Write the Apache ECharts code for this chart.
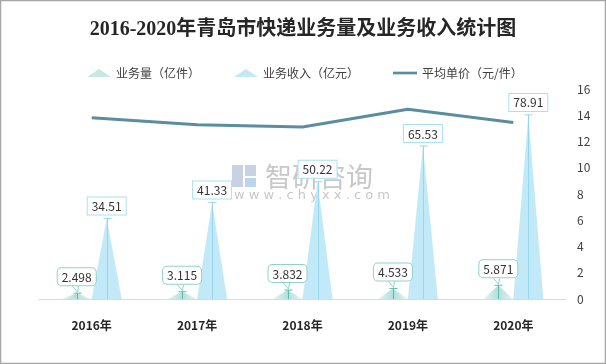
<!DOCTYPE html>
<html><head><meta charset="utf-8">
<script src="https://cdn.jsdelivr.net/npm/echarts@6/dist/echarts.min.js"></script>
<style>html,body{margin:0;padding:0;background:#fff}#c{width:606px;height:364px}</style>
</head><body><div id="c"></div>
<script>
const categories = ['2016年','2017年','2018年','2019年','2020年'];
const volume = [2.498, 3.115, 3.832, 4.533, 5.871];
const revenue = [34.51, 41.33, 50.22, 65.53, 78.91];
const unitPrice = [13.81, 13.27, 13.11, 14.46, 13.44];
const rightTicks = [0, 16, 2];

const chart = echarts.init(document.getElementById('c'));
const font = '"Noto Sans CJK SC","Noto Sans",sans-serif';

function stemSeries(data, offset, color, pointer) {
  return {
    type: 'custom', yAxisIndex: 0, z: 5, silent: true,
    data: data.map((v, i) => [i, v]),
    renderItem: function (params, api) {
      const top = api.coord([api.value(0), api.value(1)]);
      const bot = api.coord([api.value(0), 0]);
      const x = Math.round(top[0] + offset) + 0.5;
      const kids = [
        {type: 'line', shape: {x1: x, y1: top[1], x2: x, y2: bot[1]}, style: {stroke: color, lineWidth: 1}},
        {type: 'line', shape: {x1: x - 4, y1: top[1], x2: x + 4, y2: top[1]}, style: {stroke: color, lineWidth: 1}}
      ];
      if (pointer) {
        kids.push({type: 'polyline', shape: {points: [[x - 5, top[1] - 7], [x, top[1] - 1], [x + 1, top[1] - 7]]},
          style: {stroke: pointer, lineWidth: 1, fill: null}});
      }
      return {type: 'group', children: kids};
    }
  };
}

chart.setOption({
  animation: false,
  textStyle: {fontFamily: font},
  title: {
    text: '2016-2020年青岛市快递业务量及业务收入统计图',
    left: 'center', top: 15,
    textStyle: {fontFamily: '"Liberation Serif","Noto Sans CJK SC",serif', fontSize: 20, fontWeight: 'bold', color: '#262626'}
  },
  legend: {
    left: 82, top: 62, itemGap: 34, itemWidth: 24, itemHeight: 8, symbolKeepAspect: true,
    textStyle: {fontSize: 12, color: '#404040', fontFamily: font},
    data: [
      {name: '业务量（亿件）', icon: 'triangle', itemStyle: {color: '#c7e8e3'}},
      {name: '业务收入（亿元）', icon: 'triangle', itemStyle: {color: '#c2e9f7'}},
      {name: '平均单价（元/件）', icon: 'path://M0,0L27,0L27,3L0,3Z', itemStyle: {color: '#5b8da0'}}
    ]
  },
  graphic: [
    {type: 'rect', shape: {x: 0.5, y: 0.5, width: 605, height: 363}, style: {fill: null, stroke: '#a6a6a6', lineWidth: 1.5}, z: 100},
    {type: 'group', left: 232, top: 163, z: 1, silent: true, children: [
      {type: 'rect', shape: {x: 0, y: 0, width: 11, height: 22}, style: {fill: '#c9d2e3'}},
      {type: 'rect', shape: {x: 13, y: 0, width: 11, height: 11}, style: {fill: '#c9d2e3'}},
      {type: 'rect', shape: {x: 13, y: 13, width: 11, height: 9}, style: {fill: '#b9d6ec'}},
      {type: 'text', x: 33, y: -2, style: {text: '智研咨询', font: '27px "Noto Sans CJK SC"', fill: '#c8c8c8'}},
      {type: 'text', x: 2, y: 24, style: {text: 'w w w . c h y x x . c o m', font: '13px "DejaVu Sans"', fill: '#c8c8c8'}}
    ]}
  ],
  grid: {left: 39, right: 40, top: 89, bottom: 65},
  xAxis: {
    type: 'category', data: categories,
    axisLine: {lineStyle: {color: '#d9d9d9'}}, axisTick: {show: false},
    axisLabel: {fontSize: 12, fontWeight: 'bold', color: '#262626', margin: 20}
  },
  yAxis: [
    {type: 'value', min: 0, max: 90, show: false, splitLine: {show: false}},
    {type: 'value', position: 'right', min: rightTicks[0], max: rightTicks[1], interval: rightTicks[2],
     axisLine: {show: false}, axisTick: {show: false}, splitLine: {show: false},
     axisLabel: {fontSize: 12, color: '#404040', margin: 11}}
  ],
  series: [
    {
      name: '业务量（亿件）', type: 'pictorialBar', symbol: 'triangle', barWidth: 30, barGap: '0%',
      data: volume, z: 3,
      itemStyle: {color: new echarts.graphic.LinearGradient(0, 0, 1, 0, [
        {offset: 0, color: '#e9f6f4'}, {offset: 0.5, color: '#b3dfd8'}, {offset: 1, color: '#e9f6f4'}])},
      label: {show: true, position: 'top', distance: 8, fontSize: 12, color: '#333',
        backgroundColor: '#fff', borderColor: '#8ed3c8', borderWidth: 1, borderRadius: 4, padding: [3, 4, 2, 4]}
    },
    {
      name: '业务收入（亿元）', type: 'pictorialBar', symbol: 'triangle', barWidth: 30, barGap: '0%',
      data: revenue, z: 3,
      itemStyle: {color: '#c2e9f7'},
      label: {show: true, position: 'top', distance: 4, fontSize: 12, color: '#333',
        backgroundColor: '#fff', borderColor: '#a9e0f2', borderWidth: 1, padding: [3, 4, 2, 4]}
    },
    stemSeries(volume, -15, '#5dbcae', '#8ed3c8'),
    stemSeries(revenue, 15, '#96d6ee', null),
    {
      name: '平均单价（元/件）', type: 'line', yAxisIndex: 1, data: unitPrice,
      symbol: 'none', z: 4,
      lineStyle: {color: '#5b8da0', width: 3}, itemStyle: {color: '#5b8da0'}
    }
  ]
});
</script></body></html>
